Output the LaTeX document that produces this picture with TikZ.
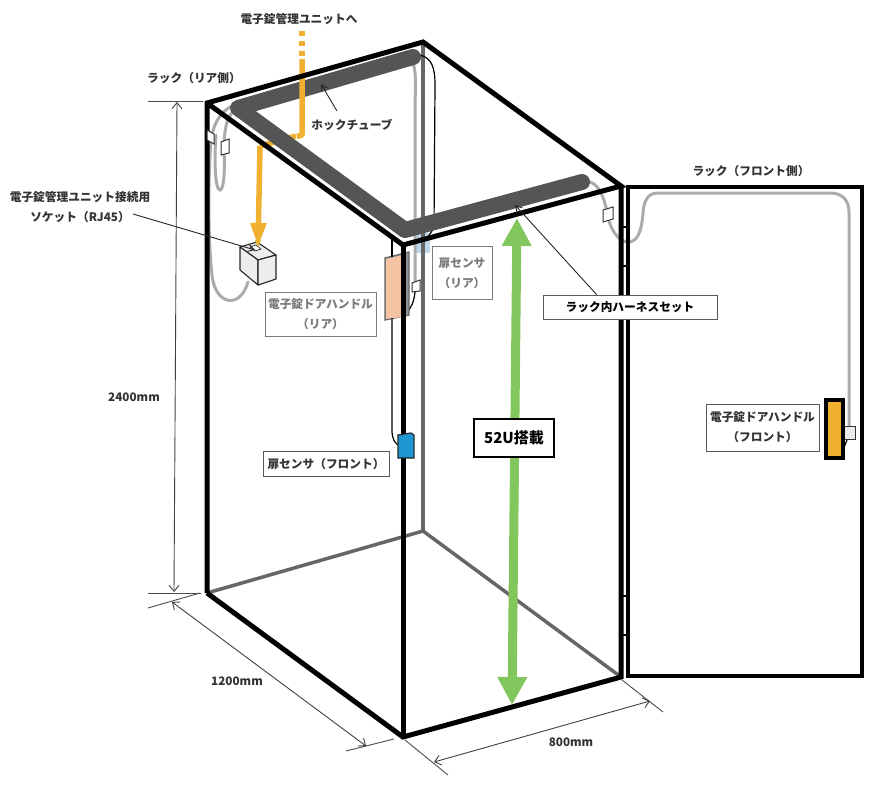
\documentclass[tikz,border=0pt]{standalone}
\usepackage{fontspec}
\setmainfont{Noto Sans CJK JP}
\usetikzlibrary{arrows.meta}
\definecolor{tubegray}{HTML}{555555}
\definecolor{postgray}{HTML}{666666}
\definecolor{cablegray}{HTML}{ABABAB}
\definecolor{orangewire}{HTML}{F0B030}
\definecolor{greenarrow}{HTML}{82C65E}
\definecolor{peach}{HTML}{F4C4A2}
\definecolor{sensorblue}{HTML}{1E96D2}
\definecolor{paleblue}{HTML}{BCD6EC}
\definecolor{labelgray}{HTML}{7A7A7A}
\tikzset{
  frame/.style={draw=black,line width=5pt,line join=miter},
  rearframe/.style={draw=postgray,line width=3.5pt},
  cable/.style={draw=cablegray,line width=3pt,line cap=round},
  thincable/.style={draw=black,line width=1.2pt},
  dim/.style={draw=black!75,line width=0.9pt,{Straight Barb[length=6pt,width=10pt]}-{Straight Barb[length=6pt,width=10pt]}},
  extline/.style={draw=black!70,line width=0.9pt},
  leader/.style={draw=black!85,line width=0.9pt,-{Straight Barb[length=6pt,width=7pt]}},
  plug/.style={draw=black!80,line width=1pt,fill=white},
  txt/.style={font=\fontsize{11.7}{20}\selectfont\bfseries,text=black!80,align=center,inner sep=0pt},
  labelbox/.style={txt,draw=black!65,line width=0.9pt,fill=white},
  graybox/.style={labelbox,draw=labelgray,text=labelgray},
}
\begin{document}
\begin{tikzpicture}[x=1pt,y=-1pt]
  \useasboundingbox (0,0) rectangle (883,795);

  \coordinate (rlt) at (207,103);
  \coordinate (rrt) at (423,42);
  \coordinate (flt) at (403,245);
  \coordinate (frt) at (621,186);
  \coordinate (rlb) at (207,593);
  \coordinate (rrb) at (423,531);
  \coordinate (flb) at (403,737);
  \coordinate (frb) at (621,677);

  \draw[rearframe] (rrt) -- (rrb);
  \draw[rearframe] (rlb) -- (rrb) -- (frb);

  % rear cables
  \fill[paleblue] (415,233) rectangle (421,253);
  \fill[paleblue] (425,233) rectangle (430,253);
  \draw[cable] (413,63) .. controls (417,75) and (415,90) .. (415,110) -- (415,285);
  \draw[thincable] (420,55) .. controls (432,58) and (435,68) .. (435,85) -- (434,228) -- (426,240);
  \draw[thincable] (415,292) .. controls (414,302) and (411,308) .. (407,312);
  \draw[cable] (232,106) .. controls (220,112) and (213,125) .. (211,140)
    .. controls (208,180) and (208,240) .. (212,275)
    .. controls (215,305) and (240,310) .. (248,282);
  \draw[cable] (240,106) .. controls (228,112) and (224,125) .. (224,150)
    .. controls (225,170) and (224,190) .. (220,190)
    .. controls (215,190) and (214,160) .. (216,135);
  \draw[cable] (590,182) .. controls (600,185) and (605,200) .. (608,217)
    .. controls (612,235) and (622,243) .. (630,242)
    .. controls (640,240) and (642,225) .. (643,213)
    .. controls (644,200) and (648,193) .. (658,193) -- (830,193)
    .. controls (842,193) and (849,200) .. (849,212) -- (849,427);

  % orange wire, lower part runs behind the tube
  \coordinate (wirebend) at (296,136);
  \coordinate (wirelow) at (260,146);
  \coordinate (wiretip) at (258,247);
  \draw[orangewire,line width=5.5pt] (wirebend) -- (wirelow);
  \draw[draw=orangewire,line width=5.5pt,-{Triangle[length=24pt,width=15pt]}] (wirelow) -- (wiretip);

  \coordinate (tubea) at (413,57);
  \coordinate (tubeb) at (238,108);
  \coordinate (tubec) at (405,230);
  \coordinate (tubed) at (582,182);
  \draw[tubegray,line width=16pt,line cap=round,line join=round] (tubea) -- (tubeb) -- (tubec) -- (tubed);

  \coordinate (wiretop) at (302,31);
  \coordinate (wiresolid) at (302,59);
  \draw[orangewire,line width=5.5pt,dash pattern=on 5pt off 5pt] (wiretop) -- (wiresolid);
  \draw[orangewire,line width=5.5pt,line join=round] (wiresolid) -- (302,135) -- (297,136.5);

  % handle at rear, under the frame
  \draw[draw=postgray,line width=1.3pt,fill=postgray!70] (385,258) -- (409,252) -- (409,315) -- (385,320) -- cycle;
  \fill[peach] (386,259) -- (403,255) -- (403,317) -- (386,319) -- cycle;
  \draw[thincable] (392,235) -- (392,257);
  \draw[thincable] (392,318) -- (392,430) .. controls (392,438) and (394,442) .. (398,445);

  \draw[frame] (rlb) -- (rlt) -- (rrt) -- (frt) -- (flt) -- (rlt);
  \draw[frame] (rlb) -- (flb) -- (frb) -- (frt);
  \draw[frame] (flt) -- (flb);
  \draw[frame,line width=4.5pt] (628,187) rectangle (862,676);

  \foreach \hingey in {227,266,596,635}
    \draw[draw=black,line width=1.2pt] (621,\hingey) -- (628,\hingey);

  % small connectors
  \draw[plug] (207,130) -- (214,134) -- (214,144) -- (207,140) -- cycle;
  \draw[plug] (221,142) -- (229,139) -- (229,153) -- (221,155) -- cycle;
  \draw[plug] (603,210) -- (613,207) -- (613,219) -- (603,222) -- cycle;
  \draw[plug] (412,283) -- (420,280) -- (420,291) -- (412,292) -- cycle;
  \draw[plug,fill=black!8] (844,426) rectangle (855,439);
  \draw[thincable] (847,440) -- (843,450);

  % socket
  \begin{scope}[draw=black!85,line width=1.1pt,fill=black!7,line join=round]
    \filldraw (240,247) -- (257,242) -- (276,255) -- (258,260) -- cycle;
    \filldraw (240,247) -- (258,260) -- (258,285) -- (240,270) -- cycle;
    \filldraw (258,260) -- (276,255) -- (276,279) -- (258,285) -- cycle;
    \filldraw[fill=white,line width=0.7pt] (250,247) -- (256,245) -- (261,249) -- (255,251) -- cycle;
  \end{scope}
  \fill[orangewire] (255,240) -- (258,247) -- (261,240) -- cycle;

  \draw[draw=black,line width=3.5pt,fill=orangewire] (826,400) rectangle (843,458);
  \draw[draw=black!85,line width=1.2pt,fill=sensorblue] (398,435) -- (411,433) -- (414,435) -- (414,458) -- (398,458) -- cycle;

  \coordinate (greentop) at (517,218);
  \coordinate (greenbottom) at (512,705);
  \draw[draw=greenarrow,line width=9pt,{Triangle[length=28pt,width=28pt]}-{Triangle[length=28pt,width=28pt]}] (greentop) -- (greenbottom);

  % dimensions
  \coordinate (exta) at (148,101);
  \coordinate (extb) at (203,101);
  \coordinate (extc) at (148,593);
  \coordinate (extd) at (201,593);
  \draw[extline] (exta) -- (extb);
  \draw[extline] (extc) -- (extd);
  \coordinate (dima) at (177,102);
  \coordinate (dimb) at (174,592);
  \draw[dim] (dima) -- (dimb);

  \coordinate (exte) at (148,608);
  \coordinate (extf) at (200,593);
  \coordinate (extg) at (346,751);
  \coordinate (exth) at (394,739);
  \draw[extline] (exte) -- (extf);
  \draw[extline] (extg) -- (exth);
  \coordinate (dimc) at (172,602);
  \coordinate (dimd) at (366,746);
  \draw[dim] (dimc) -- (dimd);

  \coordinate (exti) at (405,740);
  \coordinate (extj) at (448,775);
  \coordinate (extk) at (622,680);
  \coordinate (extl) at (663,712);
  \draw[extline] (exti) -- (extj);
  \draw[extline] (extk) -- (extl);
  \coordinate (dime) at (434,762);
  \coordinate (dimf) at (650,701);
  \draw[dim] (dime) -- (dimf);

  % labels
  \node[txt] (tomanager) at (299,19) {電子錠管理ユニットへ};
  \node[txt] (rearlabel) at (194,78) {ラック（リア側）};
  \node[txt] (hocktube) at (352,125) {ホックチューブ};
  \node[txt] (socketlabel) at (80,207) {電子錠管理ユニット接続用\\ソケット（RJ45）};
  \node[txt] (frontlabel) at (751,171) {ラック（フロント側）};
  \node[txt] (heightlabel) at (134,397) {2400mm};
  \node[txt] (depthlabel) at (237,681) {1200mm};
  \node[txt] (widthlabel) at (571,742) {800mm};

  \node[labelbox,text=black,minimum width=174pt,minimum height=24pt] (harness) at (630,307) {ラック内ハーネスセット};
  \node[labelbox,draw=black,line width=1.5pt,text=black,font=\fontsize{15}{18}\selectfont\bfseries,minimum width=80pt,minimum height=38pt] (mounted) at (514,438) {52U搭載};
  \node[graybox,minimum width=111pt,minimum height=44pt] (rearhandle) at (320.5,314) {電子錠ドアハンドル\\（リア）};
  \node[graybox,minimum width=60pt,minimum height=53pt] (rearsensor) at (462,273) {扉センサ\\（リア）};
  \node[labelbox,minimum width=126pt,minimum height=25pt] (frontsensor) at (326,464) {扉センサ（フロント）};
  \node[labelbox,minimum width=113pt,minimum height=47pt] (fronthandle) at (762.5,427.5) {電子錠ドアハンドル\\（フロント）};

  % leaders
  \coordinate (tubetip) at (321,84);
  \coordinate (harnesstip) at (515,205);
  \coordinate (sockettip) at (255,250);
  \draw[leader] (337,111) -- (tubetip);
  \draw[leader] (harness.north west) ++ (54,0) -- (harnesstip);
  \draw[leader] (133,214) -- (sockettip);
\end{tikzpicture}
\end{document}
